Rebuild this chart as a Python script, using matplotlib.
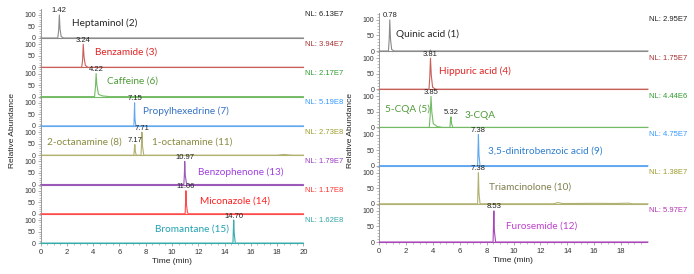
import matplotlib.pyplot as plt
from matplotlib.ticker import MultipleLocator

plt.rcParams['font.family'] = ['Liberation Sans', 'DejaVu Sans']

# ---- left panel: chromatogram traces as (time, relative abundance) points ----
left_traces = [
    [(0, 0), (1.30, 0), (1.37, 35), (1.42, 100), (1.47, 40), (1.56, 6), (1.75, 0), (20, 0)],
    [(0, 0), (3.12, 0), (3.19, 30), (3.24, 100), (3.30, 45), (3.40, 8), (3.60, 0), (20, 0)],
    [(0, 0), (4.10, 0), (4.17, 40), (4.22, 100), (4.28, 50), (4.40, 10), (4.70, 3), (5.20, 0), (20, 0)],
    [(0, 0), (7.10, 0), (7.13, 60), (7.15, 100), (7.18, 30), (7.25, 0), (20, 0)],
    [(0, 0), (7.10, 0), (7.14, 30), (7.17, 46), (7.21, 15), (7.28, 0), (7.64, 0),
     (7.68, 50), (7.71, 100), (7.75, 40), (7.85, 0), (18.0, 0), (18.3, 2), (18.6, 3), (18.9, 1), (19.2, 0), (20, 0)],
    [(0, 0), (10.90, 0), (10.94, 40), (10.97, 100), (11.01, 40), (11.10, 5), (11.25, 0), (20, 0)],
    [(0, 0), (11.00, 0), (11.03, 45), (11.06, 100), (11.10, 40), (11.18, 4), (11.30, 0), (20, 0)],
    [(0, 0), (14.64, 0), (14.67, 50), (14.70, 100), (14.74, 40), (14.82, 0), (20, 0)],
]
left_peaks = [[1.42], [3.24], [4.22], [7.15], [7.17, 7.71], [10.97], [11.06], [14.70]]
left_peak_heights = [[100], [100], [100], [100], [46, 100], [100], [100], [100]]
left_names = [["Heptaminol (2)"], ["Benzamide (3)"], ["Caffeine (6)"], ["Propylhexedrine (7)"],
              ["2-octanamine (8)", "1-octanamine (11)"], ["Benzophenone (13)"],
              ["Miconazole (14)"], ["Bromantane (15)"]]
left_nl = ["6.13E7", "3.94E7", "2.17E7", "5.19E8", "2.73E8", "1.79E7", "1.17E8", "1.62E8"]

# ---- right panel ----
right_traces = [
    [(0, 0), (0.68, 0), (0.74, 40), (0.78, 100), (0.83, 40), (0.92, 5), (1.10, 0), (3.75, 0), (3.81, 3), (3.87, 0), (20, 0)],
    [(0, 0), (3.70, 0), (3.76, 40), (3.81, 100), (3.87, 45), (3.97, 6), (4.20, 0), (20, 0)],
    [(0, 0), (3.72, 0), (3.79, 40), (3.85, 100), (3.91, 50), (4.02, 12), (4.30, 3), (4.70, 0),
     (5.26, 0), (5.30, 25), (5.34, 34), (5.38, 12), (5.48, 0), (20, 0)],
    [(0, 0), (7.32, 0), (7.35, 50), (7.38, 100), (7.42, 35), (7.50, 0), (20, 0)],
    [(0, 0), (7.32, 0), (7.35, 50), (7.38, 100), (7.42, 35), (7.50, 0), (13.0, 0), (13.3, 4), (13.6, 1),
     (14.5, 1), (16.0, 1.5), (17.5, 1), (18.6, 2), (18.8, 0), (20, 0)],
    [(0, 0), (8.47, 0), (8.50, 50), (8.53, 100), (8.57, 35), (8.66, 0), (20, 0)],
]
right_peaks = [[0.78], [3.81], [3.85, 5.32], [7.38], [7.38], [8.53]]
right_peak_heights = [[100], [100], [100, 34], [100], [100], [100]]
right_names = [["Quinic acid (1)"], ["Hippuric acid (4)"], ["5-CQA (5)", "3-CQA"],
               ["3,5-dinitrobenzoic acid (9)"], ["Triamcinolone (10)"], ["Furosemide (12)"]]
right_nl = ["2.95E7", "1.75E7", "4.44E6", "4.75E7", "1.38E7", "5.97E7"]

# styles
left_trace_colors = ['#8a8a8a', '#c8605a', '#74bb66', '#62a8ee', '#b0b070', '#9a58b8', '#ff4a4a', '#38acac']
left_nl_colors = ['#202020', '#a83030', '#2e9e2e', '#3399ff', '#9c9c2c', '#9838c0', '#ff3030', '#30a4a4']
left_name_colors = ['#262626', '#e02424', '#4f9a3a', '#3572c4', '#8a8a40', '#a040e0', '#ff2020', '#22a2b0']
right_trace_colors = ['#8a8a8a', '#c8605a', '#74bb66', '#62a8ee', '#b0b070', '#a848b8']
right_nl_colors = ['#202020', '#a83030', '#2e9e2e', '#3399ff', '#9c9c2c', '#b030b0']
right_name_colors = ['#262626', '#e02424', '#4f9a3a', '#2f80d0', '#7f7f50', '#c040d0']

# label positions (data coords within each row)
left_name_pos = [[(2.4, 65)], [(4.1, 65)], [(5.05, 68)], [(7.8, 65)],
                 [(0.45, 57), (8.5, 57)], [(12.0, 55)], [(12.1, 57)], [(8.7, 60)]]
right_name_pos = [[(1.27, 55)], [(4.47, 58)], [(0.45, 57), (6.38, 38)],
                  [(8.1, 48)], [(8.2, 55)], [(9.45, 52)]]

W, H = 694, 274
fig = plt.figure(figsize=(W / 100, H / 100), dpi=100)


def style_row(ax, xmax, ymax, color, last):
    ax.set_xlim(0, xmax)
    ax.set_ylim(0, ymax)
    for s in ['top', 'right']:
        ax.spines[s].set_visible(False)
    ax.spines['left'].set_color('#8c8c8c')
    ax.spines['left'].set_linewidth(0.6)
    ax.spines['bottom'].set_color(color)
    ax.spines['bottom'].set_linewidth(0.8)
    ax.set_yticks([0, 50, 100])
    ax.yaxis.set_minor_locator(MultipleLocator(10))
    ax.tick_params(axis='y', which='major', labelsize=5, length=2.5, width=0.5, pad=1,
                   color='#8c8c8c', labelcolor='#333333')
    ax.tick_params(axis='y', which='minor', length=1.2, width=0.4, color='#8c8c8c')
    ax.patch.set_alpha(0)
    if last:
        ax.xaxis.set_major_locator(MultipleLocator(2))
        ax.xaxis.set_minor_locator(MultipleLocator(0.5))
        ax.tick_params(axis='x', which='major', labelsize=5.5, length=2.5, width=0.5, pad=1.5,
                       color='#8c8c8c', labelcolor='#333333')
        ax.tick_params(axis='x', which='minor', length=1.3, width=0.4, color='#8c8c8c')
    else:
        ax.set_xticks([])


def panel(x0_px, x1_px, xmax, top_px, row_px, ymax, traces, peaks, heights, names,
          name_pos, nl, tcols, ncols, lcols):
    n = len(traces)
    axes = []
    for i in range(n):
        bottom_px = top_px + (i + 1) * row_px
        ax = fig.add_axes([x0_px / W, 1 - bottom_px / H, (x1_px - x0_px) / W, row_px / H])
        last = i == n - 1
        style_row(ax, xmax, ymax, tcols[i], last)
        t = [p[0] for p in traces[i]]
        y = [p[1] for p in traces[i]]
        ax.plot(t, y, color=tcols[i], lw=0.8, clip_on=False, zorder=3)
        for rt, h in zip(peaks[i], heights[i]):
            ax.text(rt, h + (4 if h < 90 else 2), f"{rt:.2f}", fontsize=5.5, ha='center',
                    va='bottom', color='#222222', clip_on=False)
        for name, (px, py) in zip(names[i], name_pos[i]):
            ax.text(px, py, name, fontsize=7.2, family=['Lato', 'DejaVu Sans'],
                    color=ncols[i], ha='left', va='center')
        ax.text(1.008, 100 / ymax, f"NL: {nl[i]}", transform=ax.transAxes, fontsize=5.5,
                color=lcols[i], ha='left', va='center')
        axes.append(ax)
    axes[-1].set_xlabel("Time (min)", fontsize=6, labelpad=2, color='#222222')
    return axes


lax = panel(40.7, 303.3, 20, 8.7, 29.3, 127, left_traces, left_peaks, left_peak_heights,
            left_names, left_name_pos, left_nl, left_trace_colors, left_name_colors, left_nl_colors)
rax = panel(379.3, 379.3 + 19.95 * 13.43, 19.95, 12.8, 38.2, 123, right_traces, right_peaks,
            right_peak_heights, right_names, right_name_pos, right_nl, right_trace_colors,
            right_name_colors, right_nl_colors)

fig.text(12 / W, 1 - 130 / H, "Relative Abundance", rotation=90, fontsize=6,
         ha='center', va='center', color='#222222')
fig.text(351 / W, 1 - 130 / H, "Relative Abundance", rotation=90, fontsize=6,
         ha='center', va='center', color='#222222')

fig.savefig("out.png", dpi=100)
